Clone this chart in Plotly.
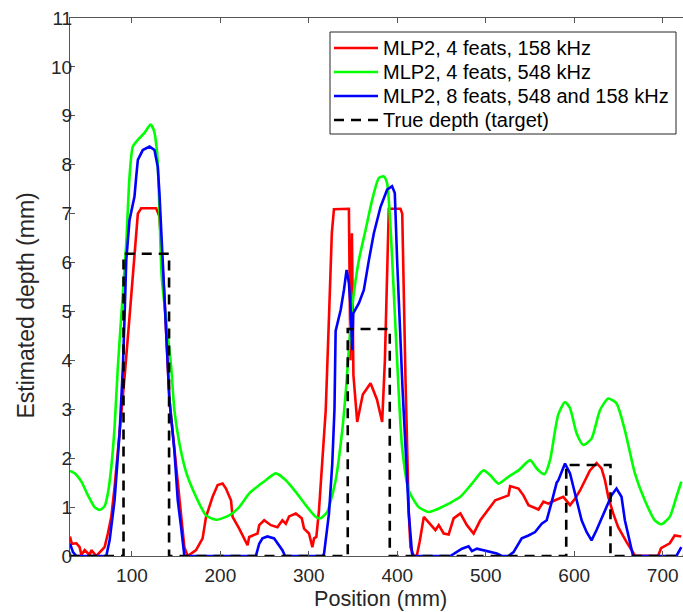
import plotly.graph_objects as go

# ---- data (position in mm, depth in mm) ----
red_x = [30, 32, 37.2, 40.9, 42.9, 46.6, 52.2, 54.1, 59.8, 65.4, 69.1, 72.8, 76.7, 80.4, 86.0, 91.7, 97.3,
         102.9, 106.7, 110.5, 127.4, 131.1, 133.7, 136.8, 142.4, 150.0, 155.6, 159.3, 163.0, 172.5, 179.9,
         183.8, 191.2, 196.9, 202.5, 206.3, 212.0, 213.8, 221.3, 230.7, 232.6, 242.0, 243.9, 249.5, 257.1,
         264.5, 270.1, 274.0, 277.7, 285.2, 292.0, 294.6, 300.2, 304.0, 305.9, 308.5, 311.5, 315.2, 319.1,
         323, 326, 328.4, 345.3, 347.0, 348.7, 350.4, 354.7, 361, 369.8, 377, 382.9, 386, 390.4, 403.6,
         405.6, 409.3, 413, 414.9, 418.6, 422, 425.4, 430, 443.1, 446.9, 452.5, 458.1, 463.7, 471.3, 478.7,
         486.3, 493.8, 501.2, 510.7, 525.7, 527.6, 537, 542.6, 548.3, 559.6, 565.2, 570.8, 578.4, 582.1,
         587.7, 595.3, 600.9, 606.6, 610.3, 617.8, 625.3, 630.9, 634.8, 638.5, 644.1, 649.7, 659.1, 668.6,
         694.8, 698.2, 708, 713.6, 721]
red_y = [0.40, 0.25, 0.26, 0.18, 0.02, 0.12, 0.02, 0.12, 0.0, 0.12, 0.18, 0.46, 0.80, 1.41, 2.5, 3.66, 4.89,
         6.05, 7.0, 7.11, 7.11, 6.94, 6.26, 5.3, 3.19, 1.82, 0.8, 0.18, 0.0, 0.12, 0.36,
         0.80, 1.21, 1.45, 1.48, 1.38, 1.14, 0.80, 0.56, 0.22, 0.39, 0.46, 0.63, 0.73, 0.63,
         0.59, 0.73, 0.66, 0.81, 0.87, 0.77, 0.56, 0.46, 0.18, 0.36, 0.39, 0.94, 1.96, 2.98,
         5.0, 6.6, 7.09, 7.1, 4.0, 6.6, 3.7, 2.74, 3.3, 3.53, 3.2, 2.74, 4.0, 7.1, 7.1,
         7.0, 3.6, 0.87, 0.18, 0.0, 0.0, 0.3, 0.80, 0.53, 0.63, 0.46, 0.44, 0.77, 0.87, 0.63,
         0.46, 0.73, 0.91, 1.14, 1.24, 1.43, 1.38, 1.24, 1.04, 0.95, 1.11, 1.07, 1.14, 1.17,
         1.21, 1.04, 1.17, 1.34, 1.48, 1.75, 1.90, 1.79, 1.55, 1.21, 0.87, 0.59, 0.29, 0.01,
         0.0, 0.16, 0.26, 0.42, 0.40]

green_x = [30, 35.3, 42.9, 50.3, 57.8, 63.5, 69.1, 72.8, 76.7, 80.4, 84.1, 87.9, 93.6, 97.3, 101.0, 106.7,
           114.2, 121.0, 124.7, 128.5, 131.1, 133.7, 144.3, 148.0, 153.7, 161.2, 172.5, 183.8, 195.1, 210.0,
           221.3, 232.6, 243.9, 251.4, 262.7, 274.0, 285.2, 296.5, 307.8, 313.2, 320.9, 322.8, 330.3, 337.8,
           341.6, 349.1, 356.6, 364.2, 371.6, 379.2, 384.8, 388.5, 392.3, 396.1, 399.8, 405.4, 413.0, 424.3,
           435.6, 446.9, 458.1, 471.3, 484.4, 497.5, 505.1, 514.4, 525.7, 537.0, 550.2, 557.6, 566.3, 572.7,
           578.4, 582.1, 589.6, 595.3, 602.7, 610.3, 619.6, 629.1, 638.5, 647.8, 657.3, 668.6, 679.8, 691.1,
           698.5, 708.0, 715.5, 721.1]
green_y = [1.74, 1.69, 1.52, 1.24, 1.0, 0.94, 1.02, 1.28, 1.82, 2.64, 3.87, 4.89, 6.39, 7.76, 8.37, 8.51,
           8.65, 8.82, 8.71, 8.24, 7.08, 5.71, 3.87, 2.98, 2.30, 1.72, 1.21, 0.83, 0.74, 0.83,
           1.0, 1.28, 1.45, 1.55, 1.69, 1.55, 1.31, 1.04, 0.80, 0.77, 0.90, 1.0, 1.55, 2.57,
           3.32, 5.1, 6.05, 6.67, 7.28, 7.73, 7.76, 7.62, 6.73, 5.37, 4.0, 2.23, 1.34, 1.0,
           0.90, 0.97, 1.07, 1.21, 1.48, 1.75, 1.65, 1.48, 1.62, 1.75, 1.96, 1.79, 1.67, 1.96,
           2.57, 2.9, 3.15, 3.02, 2.51, 2.27, 2.40, 2.98, 3.22, 3.12, 2.57, 1.69, 1.14, 0.73,
           0.65, 0.80, 1.21, 1.52]

blue_x = [30, 33.4, 37.2, 71.0, 74.8, 80.4, 86.0, 89.8, 91.7, 93.6, 97.3, 101.0, 102.9, 104.9, 106.7, 112.3,
          119.9, 125.5, 129.2, 131.1, 133.7, 136.8, 142.4, 148.0, 151.8, 155.6, 159.3, 240.1, 243.9, 247.6,
          253.2, 260.8, 266.4, 270.1, 273.2, 316.0, 317.2, 322.8, 326.5, 329.0, 330.3, 336.0, 339.7, 342.7,
          345.3, 347.2, 349.1, 350.2, 356.6, 362.2, 367.9, 373.5, 381.1, 388.5, 394.1, 397.2, 399.8, 403.6,
          406, 409.3, 413.0, 416.7, 418, 460.0, 467.4, 473.1, 480.6, 484.4, 490.0, 497.5, 505.1, 512.5,
          518.2, 525.7, 531.4, 537.0, 540.7, 548.3, 555.8, 563.3, 568.9, 574.5, 580.2, 582.1, 589.6, 595.3,
          600.9, 608.4, 614.0, 619.6, 625.3, 634.8, 642.2, 647.8, 653.5, 657.3, 662.9, 666.6, 715.5, 721.1]
blue_y = [0.25, 0.08, 0, 0, 0.32, 1.14, 2.5, 3.87, 4.89, 6.05, 6.87, 7.21, 7.35, 7.76, 8.1, 8.30,
          8.37, 8.30, 7.96, 7.42, 6.39, 5.17, 3.19, 2.16, 1.14, 0.59, 0.0, 0, 0.25, 0.36,
          0.40, 0.36, 0.22, 0.12, 0, 0, 0.05, 0.87, 1.89, 3.0, 4.6, 5.03, 5.44, 5.85,
          5.58, 5.10, 4.21, 4.96, 5.17, 5.44, 6.05, 6.60, 7.14, 7.49, 7.56, 7.42, 6.05, 4.35,
          3.4, 2.23, 0.87, 0.05, 0, 0, 0.08, 0.15, 0.2, 0.1, 0.15, 0.12, 0.08, 0.05,
          0, 0, 0.08, 0.25, 0.36, 0.42, 0.49, 0.66, 0.73, 1.1, 1.5, 1.55, 1.89, 1.69,
          1.28, 0.73, 0.49, 0.32, 0.53, 0.94, 1.24, 1.38, 1.21, 0.73, 0.25, 0.0, 0.0, 0.18]

# true defects: (start mm, end mm, depth mm)
true_start = [90.5, 344.0, 591.0]
true_end = [142.0, 391.5, 641.0]
true_depth = [6.18, 4.64, 1.86]
x_min, x_max = 30, 723

x_ticks = [100, 200, 300, 400, 500, 600, 700]
y_ticks = list(range(0, 12))

names = ["MLP2, 4 feats, 158 kHz", "MLP2, 4 feats, 548 kHz",
         "MLP2, 8 feats, 548 and 158 kHz", "True depth (target)"]
colors = ["#ff0000", "#00ff00", "#0000ff", "#000000"]
dashes = ["solid", "solid", "solid", "10px,7px"]

# build step polyline for true depth
tx, ty = [x_min], [0]
for s, e, d in zip(true_start, true_end, true_depth):
    tx += [s, s, e, e]
    ty += [0, d, d, 0]
tx.append(x_max)
ty.append(0)

FONT = "Liberation Sans, Arial, Helvetica, sans-serif"
W, H = 683, 612
ML, MR, MT, MB = 70, 0, 18, 56
PW, PH = W - ML - MR, H - MT - MB


def px2paper_x(px):
    return (px - ML) / PW


def py2paper_y(py):
    return (H - MB - py) / PH


fig = go.Figure()
series = [(red_x, red_y), (green_x, green_y), (blue_x, blue_y), (tx, ty)]
for i, (xs, ys) in enumerate(series):
    line = dict(color=colors[i], width=2.6, dash=dashes[i])
    if i == 1:
        line.update(shape="spline", smoothing=0.6)
    fig.add_trace(go.Scatter(x=xs, y=ys, mode="lines", name=names[i], line=line,
                             showlegend=False))

# ---- legend box (drawn manually to match the reference's compact spacing) ----
leg_left, leg_right, leg_top, leg_bot = 330, 676, 32, 134
shapes = [dict(type="rect", xref="paper", yref="paper",
               x0=px2paper_x(leg_left), x1=px2paper_x(leg_right),
               y0=py2paper_y(leg_bot), y1=py2paper_y(leg_top),
               line=dict(color="#262626", width=1), fillcolor="white", layer="above")]
annotations = []
for i, nm in enumerate(names):
    yy = py2paper_y(48 + 24 * i)
    shapes.append(dict(type="line", xref="paper", yref="paper",
                       x0=px2paper_x(334), x1=px2paper_x(378), y0=yy, y1=yy,
                       line=dict(color=colors[i], width=2.6, dash=dashes[i]), layer="above"))
    annotations.append(dict(text=nm, xref="paper", yref="paper", x=px2paper_x(381), y=yy,
                            xanchor="left", yanchor="middle", showarrow=False,
                            font=dict(size=20, color="#000000", family=FONT)))

# axis titles as annotations (positioned like the reference)
annotations.append(dict(text="Position (mm)", xref="paper", yref="paper",
                        x=px2paper_x(380), y=py2paper_y(598), xanchor="center", yanchor="middle",
                        showarrow=False, font=dict(size=21.6, color="#262626", family=FONT)))
annotations.append(dict(text="Estimated depth (mm)", xref="paper", yref="paper",
                        x=px2paper_x(25.5), y=py2paper_y(306), xanchor="center", yanchor="middle",
                        textangle=-90, showarrow=False,
                        font=dict(size=23, color="#262626", family=FONT)))

fig.update_layout(
    width=W, height=H,
    margin=dict(l=ML, r=MR, t=MT, b=MB),
    paper_bgcolor="white", plot_bgcolor="white",
    font=dict(family=FONT, size=19, color="#262626"),
    showlegend=False,
    shapes=shapes, annotations=annotations,
    xaxis=dict(range=[x_min, x_max], tickvals=x_ticks, ticks="inside", ticklen=5,
               tickcolor="#555555", showline=True, linecolor="#555555", linewidth=1,
               mirror="ticks", showgrid=False, zeroline=False, ticklabelstandoff=2,
               ticklabeloverflow="allow", tickfont=dict(size=19)),
    yaxis=dict(range=[0, 11], tickvals=y_ticks, ticks="inside", ticklen=5,
               tickcolor="#555555", showline=True, linecolor="#555555", linewidth=1,
               mirror=False, showgrid=False, zeroline=False, ticklabelstandoff=-7,
               ticklabeloverflow="allow", tickfont=dict(size=19)),
)
fig.write_html("out.html", config={"displayModeBar": False},
               post_script="document.body.style.margin='0';document.body.style.overflow='hidden';")
